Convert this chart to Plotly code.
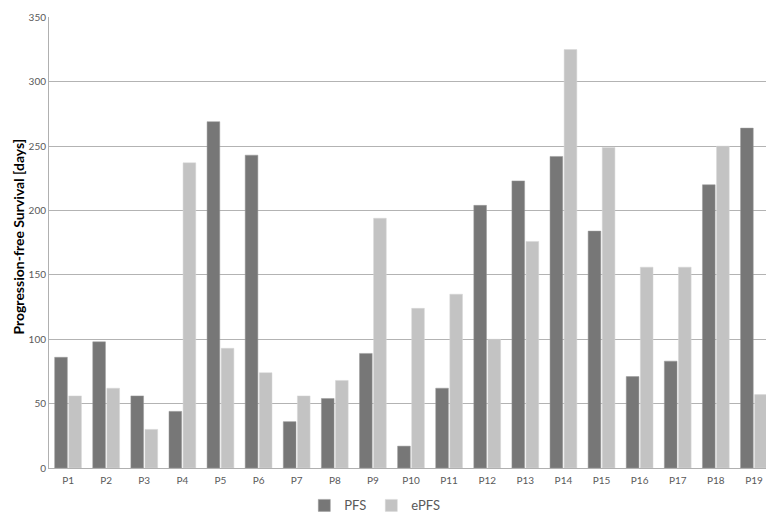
import plotly.graph_objects as go

patients = ["P%d" % i for i in range(1, 20)]
pfs = [86, 98, 56, 44, 269, 243, 36, 54, 89, 17, 62, 204, 223, 242, 184, 71, 83, 220, 264]
epfs = [56, 62, 30, 237, 93, 74, 56, 68, 194, 124, 135, 100, 176, 325, 249, 156, 156, 250, 57]

fig = go.Figure()
fig.add_trace(go.Bar(x=patients, y=pfs, name="PFS",
                     marker=dict(color="#777777", line=dict(color="#9a9a9a", width=0.5))))
fig.add_trace(go.Bar(x=patients, y=epfs, name="ePFS",
                     marker=dict(color="#c3c3c3", line=dict(color="#d6d6d6", width=0.5))))

fig.update_layout(
    width=774, height=515,
    margin=dict(l=41, r=9, t=3, b=42),
    plot_bgcolor="white", paper_bgcolor="white",
    font=dict(family="Lato, sans-serif", size=10, color="#595959"),
    barmode="group", bargap=0.26, bargroupgap=0.1,
    showlegend=True,
    legend=dict(orientation="h", x=0.45, xanchor="center", y=-0.083, yanchor="middle",
                font=dict(size=13, color="#595959"), itemwidth=30),
    # y title as annotation so it can sit closer to the left edge
    annotations=[dict(text="<b>Progression-free Survival [days]</b>", textangle=-90,
                      xref="paper", yref="paper", x=-0.056, y=0.513,
                      xanchor="left", yanchor="middle", showarrow=False,
                      font=dict(size=14, color="#000000"))],
)
fig.update_xaxes(showline=True, linecolor="#b0b0b0", linewidth=1, ticks="",
                 ticklabelstandoff=3, tickfont=dict(size=10, color="#595959"))
fig.update_yaxes(range=[0, 350.3], tickvals=[0, 50, 100, 150, 200, 250, 300, 350],
                 showgrid=True, gridcolor="#b3b3b3", gridwidth=1,
                 showline=True, linecolor="#b0b0b0", linewidth=1, zeroline=False,
                 ticks="", ticklabeloverflow="allow", tickfont=dict(size=10, color="#595959"))

fig.write_html("out.html")
